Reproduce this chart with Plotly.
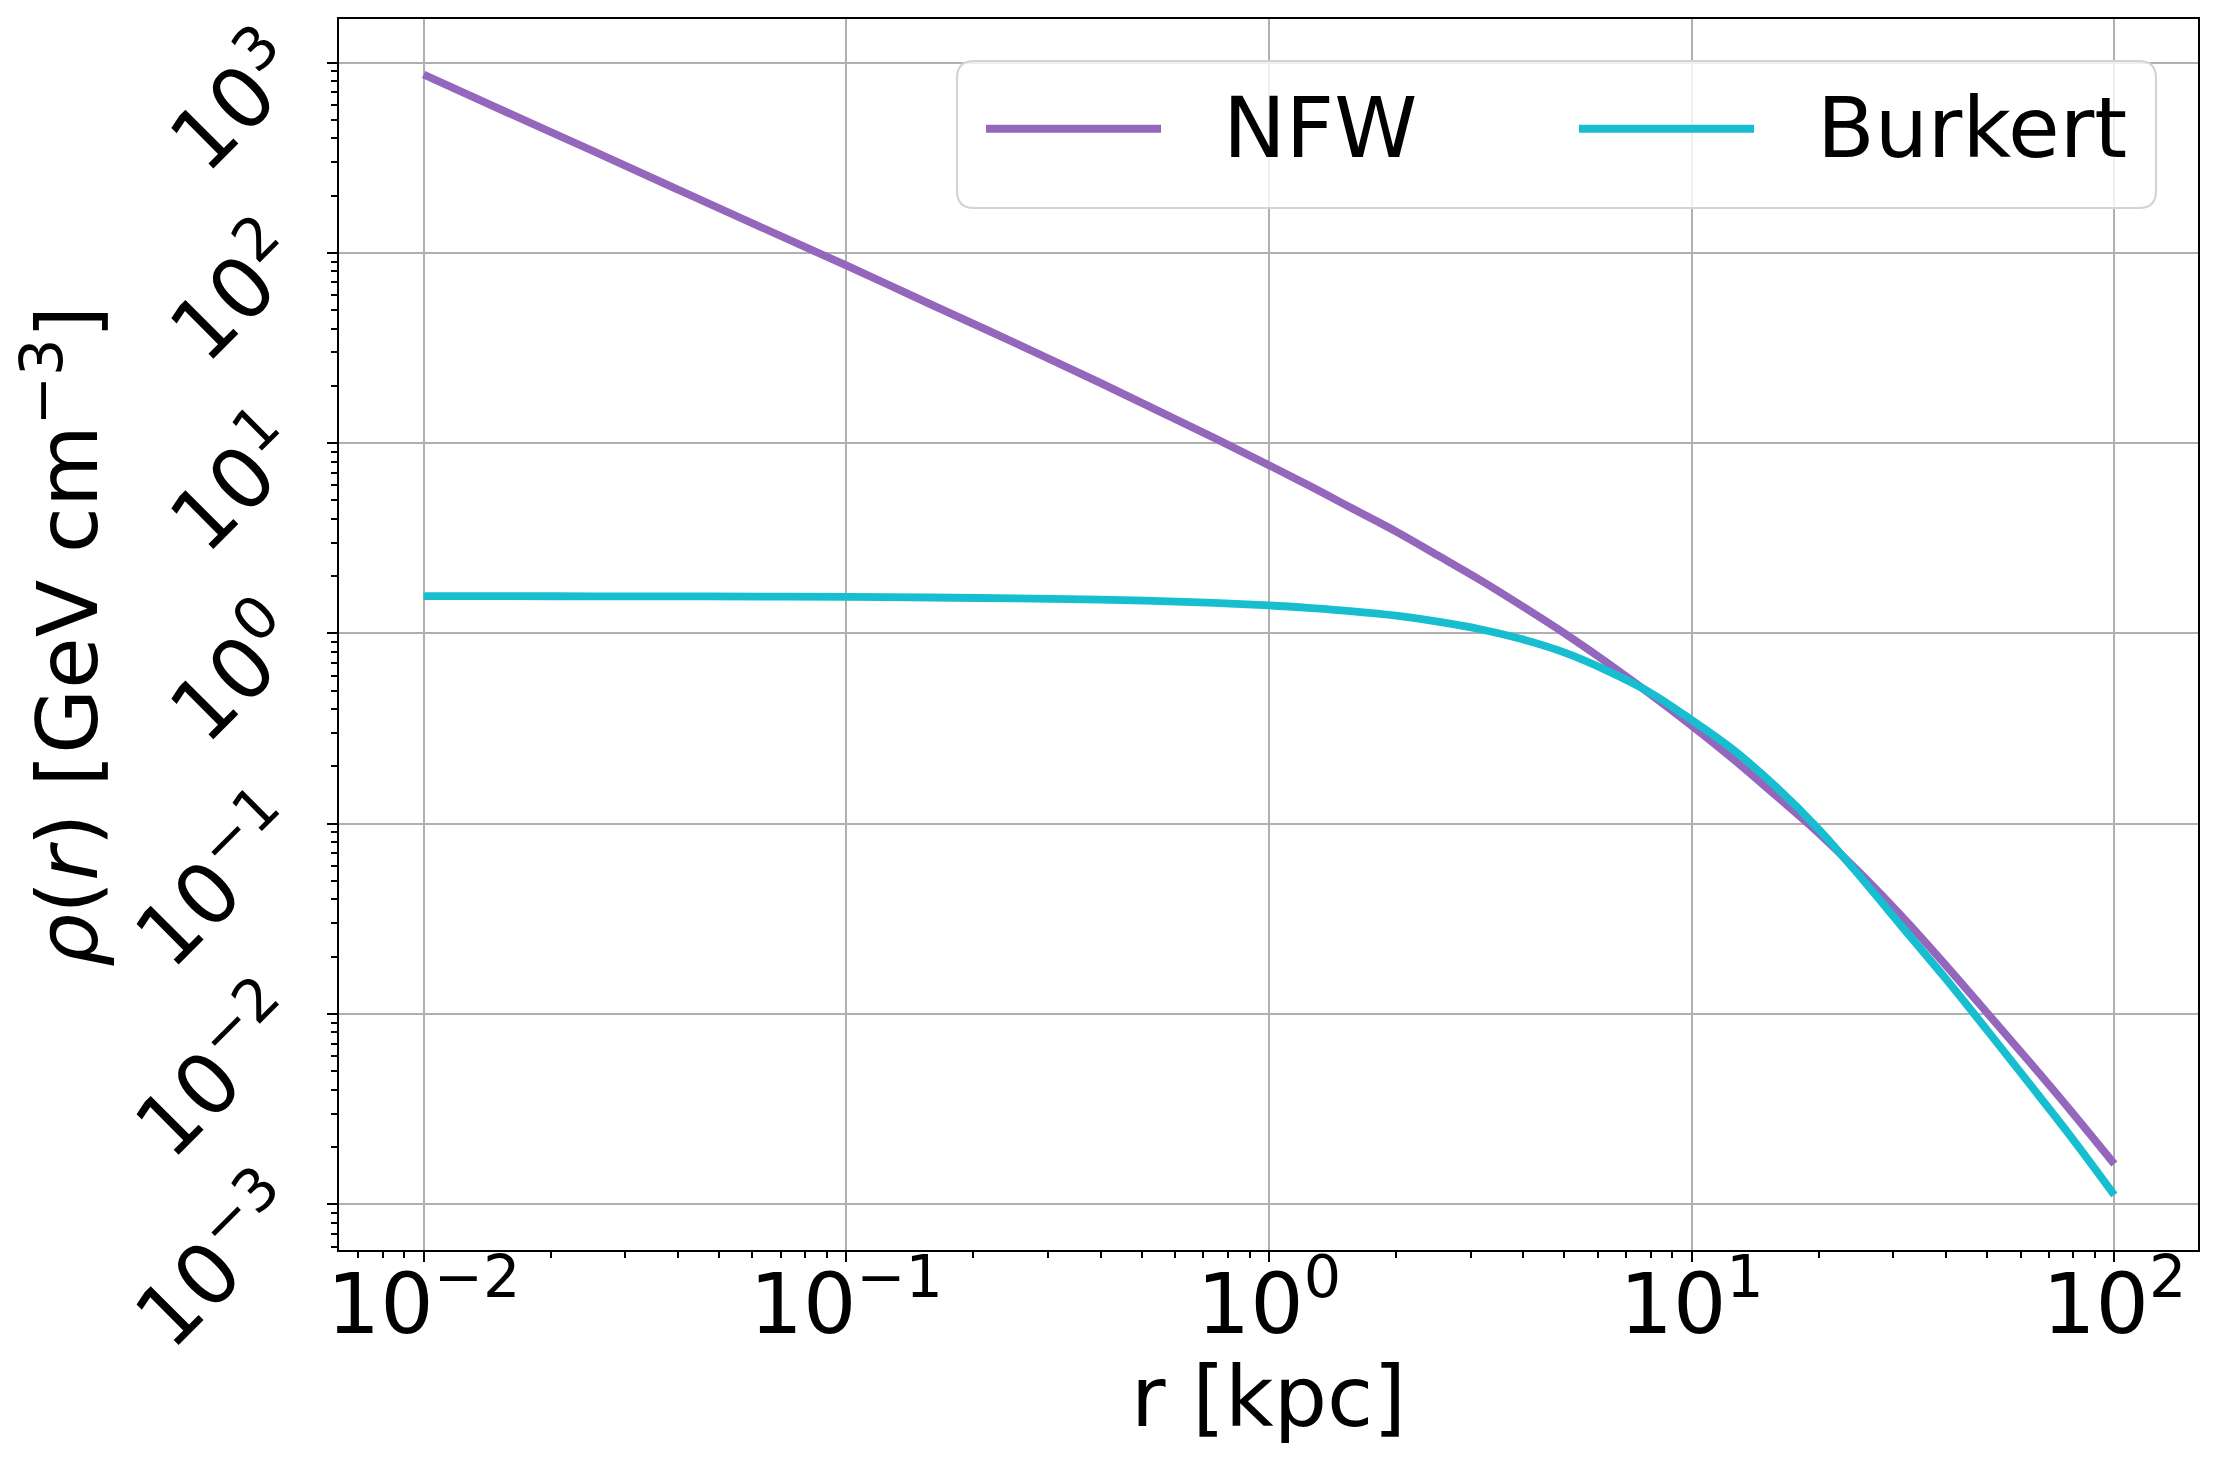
import plotly.graph_objects as go

# radius samples [kpc] and densities [GeV cm^-3]
r_kpc = [0.01, 0.0158, 0.0251, 0.0398, 0.0631, 0.1, 0.158, 0.251, 0.398, 0.631,
         1.0, 1.26, 1.58, 2.0, 2.51, 3.16, 3.98, 5.01, 6.31, 7.94,
         10.0, 12.6, 15.8, 20.0, 25.1, 31.6, 39.8, 50.1, 63.1, 79.4, 100.0]
nfw_rho = [865, 546, 344, 216, 136, 85.9, 53.8, 33.6, 20.8, 12.7,
           7.66, 5.90, 4.52, 3.43, 2.57, 1.91, 1.39, 1.00, 0.703, 0.485,
           0.328, 0.217, 0.141, 0.0891, 0.0547, 0.0322, 0.0182, 0.0101, 0.00558, 0.00305, 0.00163]
burkert_rho = [1.570, 1.570, 1.567, 1.567, 1.563, 1.556, 1.545, 1.528, 1.507, 1.466,
               1.403, 1.358, 1.306, 1.239, 1.153, 1.052, 0.931, 0.793, 0.638, 0.492,
               0.351, 0.243, 0.157, 0.0933, 0.0525, 0.0284, 0.01545, 0.00818, 0.00428, 0.00223, 0.00112]

series_names = ["NFW", "Burkert"]
series_colors = ["#9467bd", "#17becf"]

x_tickvals = [0.01, 0.1, 1, 10, 100]
x_ticktext = ["10<sup>−2</sup>", "10<sup>−1</sup>", "10<sup>0</sup>", "10<sup>1</sup>", "10<sup>2</sup>"]
y_tickvals = [0.001, 0.01, 0.1, 1, 10, 100, 1000]
y_ticktext = ["10<sup>−3</sup>", "10<sup>−2</sup>", "10<sup>−1</sup>", "10<sup>0</sup>",
              "10<sup>1</sup>", "10<sup>2</sup>", "10<sup>3</sup>"]

W, H = 2219, 1464
OFF = 8  # the page body margin shifts the figure by this much
L, R, T, B = 339 - OFF, 21 + OFF, 19 - OFF, 214 + OFF
FONT = "DejaVu Sans"
FS = 84


def to_paper(px, py):
    """screen pixels -> paper coordinates"""
    fx, fy = px - OFF, py - OFF
    return (fx - L) / (W - L - R), (H - B - fy) / (H - T - B)


def rounded_box(x0, y0, x1, y1, rad):
    pts = [("M", x0 + rad, y0), ("L", x1 - rad, y0), ("Q", x1, y0), ("", x1, y0 + rad),
           ("L", x1, y1 - rad), ("Q", x1, y1), ("", x1 - rad, y1),
           ("L", x0 + rad, y1), ("Q", x0, y1), ("", x0, y1 - rad),
           ("L", x0, y0 + rad), ("Q", x0, y0), ("", x0 + rad, y0)]
    path = ""
    for cmd, px, py in pts:
        u, v = to_paper(px, py)
        path += f"{cmd}{u:.5f},{v:.5f} "
    return path + "Z"


fig = go.Figure()
for name, rho, color in zip(series_names, [nfw_rho, burkert_rho], series_colors):
    fig.add_trace(go.Scatter(x=r_kpc, y=rho, name=name, mode="lines",
                             line=dict(color=color, width=7.8, shape="spline"),
                             showlegend=False))

axis_common = dict(
    type="log",
    showline=True, linecolor="black", linewidth=2.2, mirror=True,
    ticks="outside", ticklen=9.7, tickwidth=2.2, tickcolor="black",
    showgrid=True, gridcolor="#b0b0b0", gridwidth=2.2,
    zeroline=False,
    tickfont=dict(family=FONT, size=FS, color="black"),
    minor=dict(dtick="D1", ticks="outside", ticklen=5.6, tickwidth=1.7,
               tickcolor="black", showgrid=False),
)

fig.update_xaxes(range=[-2.2, 2.198], tickmode="array", tickvals=x_tickvals,
                 ticktext=x_ticktext, ticklabelstandoff=-30, **axis_common)
fig.update_yaxes(range=[-3.24, 3.229], tickmode="array", tickvals=y_tickvals,
                 ticktext=y_ticktext, tickangle=-45, ticklabelstandoff=32,
                 ticklabelshift=-6, **axis_common)

# legend drawn by hand so the keys get matplotlib-like long line samples
shapes = [dict(type="path", xref="paper", yref="paper", layer="above",
               path=rounded_box(957, 61, 2156, 208, 17),
               line=dict(color="#d4d4d4", width=2.2),
               fillcolor="rgba(255,255,255,0.8)")]
annotations = []
key_x = [(986, 1161, 1221), (1579, 1754, 1815)]
for (k0, k1, tx), name, color in zip(key_x, series_names, series_colors):
    u0, v = to_paper(k0, 128.7)
    u1, _ = to_paper(k1, 128.7)
    shapes.append(dict(type="line", xref="paper", yref="paper", layer="above",
                       x0=u0, x1=u1, y0=v, y1=v, line=dict(color=color, width=8)))
    ut, vt = to_paper(tx, 128)
    annotations.append(dict(text=name, xref="paper", yref="paper", x=ut, y=vt,
                            xanchor="left", yanchor="middle", showarrow=False,
                            font=dict(family=FONT, size=FS, color="black")))

# axis titles
ux, vx = to_paper(1268, 1397)
annotations.append(dict(text="r [kpc]", xref="paper", yref="paper", x=ux, y=vx,
                        xanchor="center", yanchor="middle", showarrow=False,
                        font=dict(family=FONT, size=FS, color="black")))
uy, vy = to_paper(62, 637)
annotations.append(dict(text="<i>ρ</i>(<i>r</i>) [GeV cm<sup>−3</sup>]", xref="paper", yref="paper",
                        x=uy, y=vy, xanchor="center", yanchor="middle", textangle=-90,
                        showarrow=False, font=dict(family=FONT, size=FS, color="black")))

fig.update_layout(
    width=W, height=H,
    margin=dict(l=L, r=R, t=T, b=B, autoexpand=False),
    paper_bgcolor="white", plot_bgcolor="white",
    font=dict(family=FONT, size=FS, color="black"),
    shapes=shapes, annotations=annotations,
)

fig.write_html("out.html")
